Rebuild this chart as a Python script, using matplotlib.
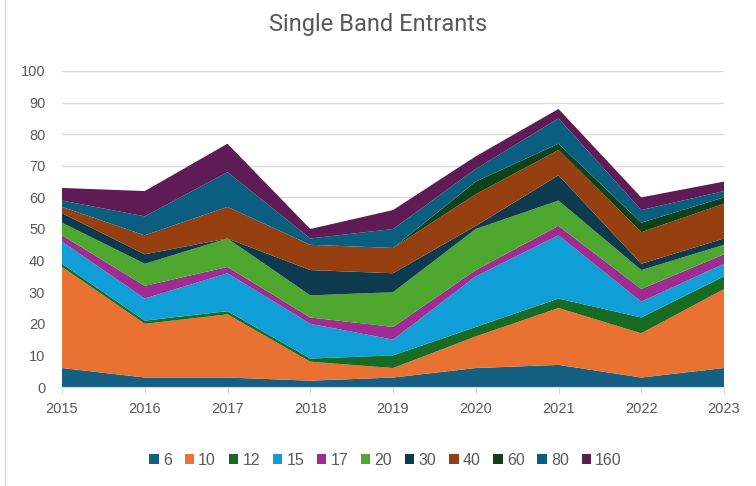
import matplotlib.pyplot as plt
import matplotlib.lines as mlines
from matplotlib.patches import Patch
import numpy as np

years = [2015, 2016, 2017, 2018, 2019, 2020, 2021, 2022, 2023]
bands = ['6', '10', '12', '15', '17', '20', '30', '40', '60', '80', '160']

# entrants per band, one value per year
b6   = [6, 3, 3, 2, 3, 6, 7, 3, 6]
b10  = [32, 17, 20, 6, 3, 10, 18, 14, 25]
b12  = [1, 1, 1, 1, 4, 3, 3, 5, 4]
b15  = [7, 7, 12, 11, 5, 16, 20, 5, 4]
b17  = [2, 4, 2, 2, 4, 2, 3, 4, 3]
b20  = [4, 7, 9, 7, 11, 13, 8, 6, 3]
b30  = [3, 3, 0, 8, 6, 1, 8, 2, 2]
b40  = [2, 6, 10, 8, 8, 10, 8, 10, 11]
b60  = [0, 0, 0, 0, 0, 4, 2, 3, 2]
b80  = [2, 6, 11, 2, 6, 4, 8, 4, 2]
b160 = [4, 8, 9, 3, 6, 4, 3, 4, 3]

colors = ['#156082', '#E97132', '#196B24', '#0F9ED5', '#A02B93', '#4EA72E',
          '#0E3A50', '#964011', '#0F4218', '#0A5F80', '#5F1B56']

grey = '#595959'

fig = plt.figure(figsize=(7.56, 4.86), dpi=100)
ax = fig.add_axes([62/756, 1 - 387/486, (724-62)/756, (387-71)/486])

series = [b6, b10, b12, b15, b17, b20, b30, b40, b60, b80, b160]
ax.stackplot(years, *series, colors=colors, linewidth=0, zorder=2)

ax.set_xlim(2015, 2023)
ax.set_ylim(0, 100)
ax.set_yticks(range(0, 101, 10))
ax.set_xticks(years)
ax.grid(axis='y', color='#D9D9D9', linewidth=1, zorder=0)
ax.set_axisbelow(True)
for s in ['top', 'right', 'left']:
    ax.spines[s].set_visible(False)
ax.spines['bottom'].set_color('#D9D9D9')
ax.spines['bottom'].set_zorder(3)
ax.tick_params(axis='y', length=0, pad=12, labelsize=10.5, labelcolor=grey)
ax.tick_params(axis='x', length=5, color='#D9D9D9', pad=6, labelsize=10.5, labelcolor=grey)
for lab in ax.get_xticklabels() + ax.get_yticklabels():
    lab.set_family(['Liberation Sans', 'DejaVu Sans'])

fig.text(0.5, 1 - 24/486, 'Single Band Entrants', ha='center', va='center',
         fontsize=17, color=grey, family=['Liberation Sans Narrow', 'Roboto', 'DejaVu Sans'])

handles = [Patch(facecolor=c, edgecolor='none') for c in colors]
fig.legend(handles, bands, loc='center', bbox_to_anchor=(0.51, 1 - 460/486), ncol=11,
           frameon=False, handlelength=0.6, handleheight=0.6, handletextpad=0.25,
           columnspacing=0.8, prop={'family': 'Liberation Sans', 'size': 11.5},
           labelcolor=grey)

# left border of the chart box
fig.add_artist(mlines.Line2D([5/756, 5/756], [0, 1], color='#D9D9D9', linewidth=1))

fig.savefig('out.png', dpi=100)
